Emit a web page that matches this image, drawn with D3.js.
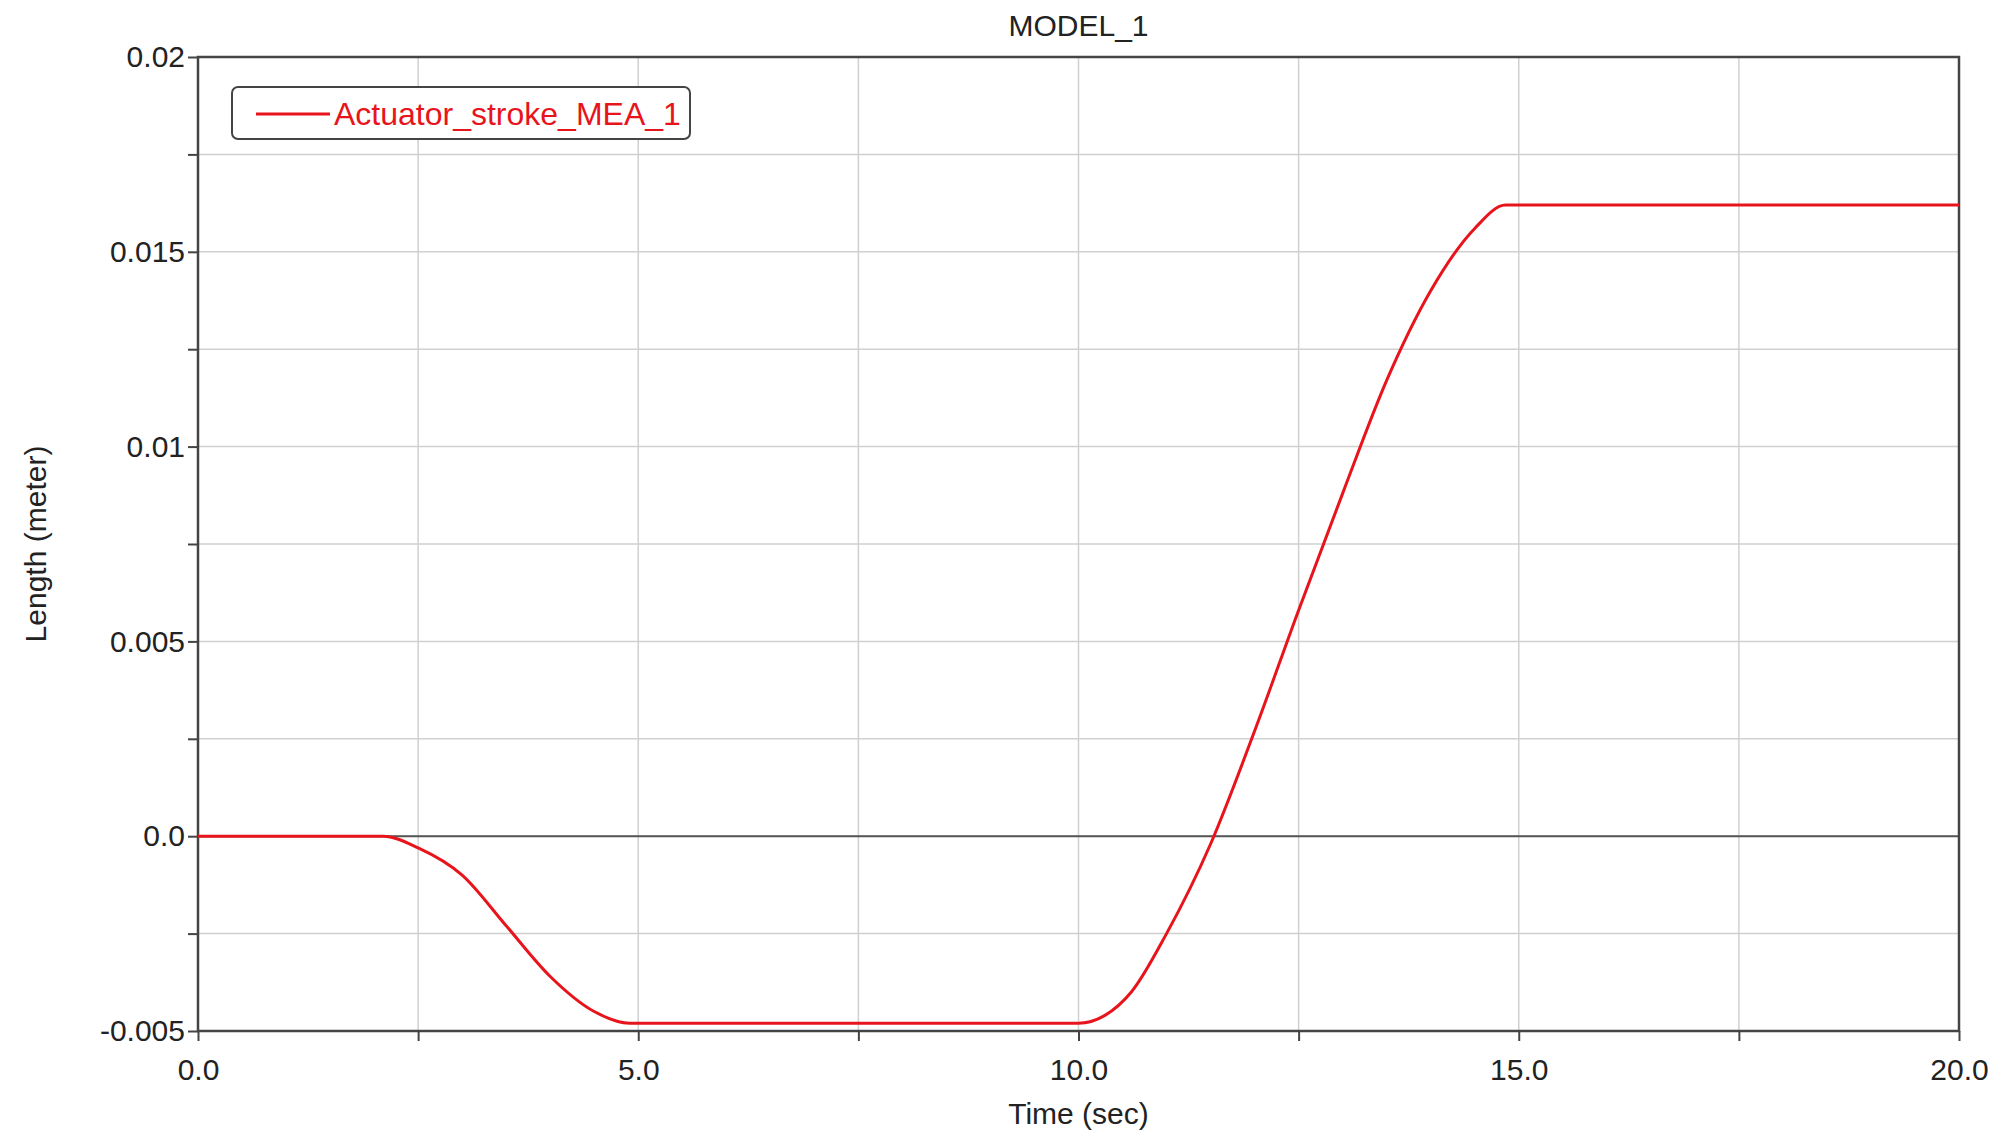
<!DOCTYPE html><html><head><meta charset="utf-8"><script src="https://cdn.jsdelivr.net/npm/d3@7"></script>
<style>body{margin:0;background:#fff}text{font-family:"Liberation Sans",Arial,sans-serif}</style></head><body><svg id="c" width="2005" height="1142"></svg><script>
const timeSec=[0,2.1,2.5,3,3.5,4,4.5,4.9,10,10.3,10.6,11,11.5,12,12.5,13,13.5,14,14.5,14.85,20];
const lengthM=[0,0,-0.0003,-0.001,-0.0023,-0.0036,-0.0045,-0.0048,-0.0048,-0.0046,-0.0040,-0.0025,-0.0002,0.0027,0.0058,0.0088,0.0117,0.0140,0.0156,0.0162,0.0162];
const xTicks=[0,5,10,15,20], yTicks=[-0.005,0,0.005,0.01,0.015,0.02];
const yLabels=["-0.005","0.0","0.005","0.01","0.015","0.02"];
const svg=d3.select("#c"), L=198,R=1959,T=57,B=1031;
const x=d3.scaleLinear().domain([0,20]).range([L,R]);
const y=d3.scaleLinear().domain([-0.005,0.02]).range([B,T]);
const g=svg.append("g");
d3.range(0,20.01,2.5).forEach(v=>g.append("line").attr("x1",x(v)).attr("x2",x(v)).attr("y1",T).attr("y2",B).attr("stroke","#d0d0d0").attr("stroke-width",1.5));
d3.range(-0.005,0.02001,0.0025).forEach(v=>g.append("line").attr("x1",L).attr("x2",R).attr("y1",y(v)).attr("y2",y(v)).attr("stroke","#d0d0d0").attr("stroke-width",1.5));
g.append("line").attr("x1",L).attr("x2",R).attr("y1",y(0)).attr("y2",y(0)).attr("stroke","#555").attr("stroke-width",2);
g.append("rect").attr("x",L).attr("y",T).attr("width",R-L).attr("height",B-T).attr("fill","none").attr("stroke","#444").attr("stroke-width",2.5);
const xa=svg.append("g").attr("transform",`translate(0,${B})`).call(d3.axisBottom(x).tickValues(d3.range(0,20.01,2.5)).tickSize(10).tickFormat(v=>xTicks.includes(v)?v.toFixed(1):""));
const ya=svg.append("g").attr("transform",`translate(${L},0)`).call(d3.axisLeft(y).tickValues(d3.range(-0.005,0.02001,0.0025)).tickSize(10).tickFormat(v=>{const i=yTicks.findIndex(t=>Math.abs(t-v)<1e-9);return i>=0?yLabels[i]:"";}));
[xa,ya].forEach(a=>{a.select(".domain").remove();a.selectAll("line").attr("stroke","#444").attr("stroke-width",2);a.selectAll("text").attr("font-size",30).attr("fill","#222");});
xa.selectAll("text").attr("dy","1.2em");
svg.append("path").datum(timeSec.map((t,i)=>[t,lengthM[i]])).attr("fill","none").attr("stroke","#e8141c").attr("stroke-width",3)
 .attr("d",d3.line().x(d=>x(d[0])).y(d=>y(d[1])).curve(d3.curveMonotoneX));
svg.append("text").attr("x",x(10)).attr("y",36).attr("text-anchor","middle").attr("font-size",30).attr("fill","#222").text("MODEL_1");
svg.append("text").attr("x",x(10)).attr("y",1124).attr("text-anchor","middle").attr("font-size",30).attr("fill","#222").text("Time (sec)");
svg.append("text").attr("transform","translate(46,544) rotate(-90)").attr("text-anchor","middle").attr("font-size",30).attr("fill","#222").text("Length (meter)");
svg.append("rect").attr("x",232).attr("y",87).attr("width",458).attr("height",52).attr("rx",6).attr("fill","#fff").attr("stroke","#444").attr("stroke-width",2);
svg.append("line").attr("x1",256).attr("x2",330).attr("y1",114).attr("y2",114).attr("stroke","#e8141c").attr("stroke-width",3);
svg.append("text").attr("x",334).attr("y",125).attr("font-size",32).attr("fill","#e8141c").text("Actuator_stroke_MEA_1");
</script></body></html>
